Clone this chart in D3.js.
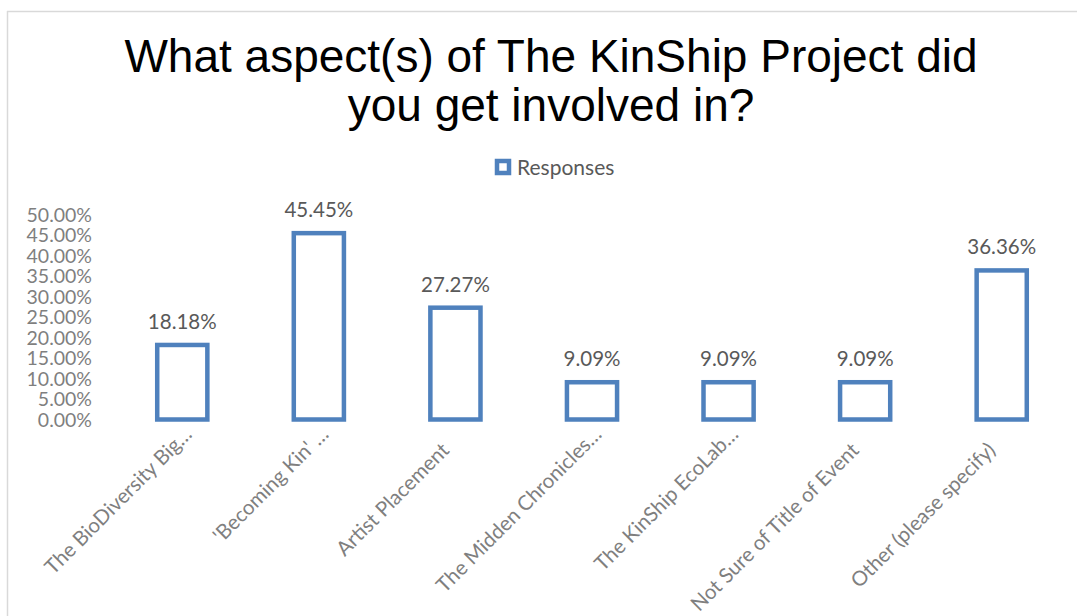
<!DOCTYPE html>
<html>
<head>
<meta charset="utf-8">
<script src="https://cdn.jsdelivr.net/npm/d3@7/dist/d3.min.js"></script>
<style>
html,body{margin:0;padding:0;background:#fff;}
svg{display:block;}
</style>
</head>
<body>
<svg id="chart" width="1077" height="616"></svg>
<script>
const categories = [
  "The BioDiversity Big\u2026",
  "'Becoming Kin' \u2026",
  "Artist Placement",
  "The Midden Chronicles\u2026",
  "The KinShip EcoLab\u2026",
  "Not Sure of Title of Event",
  "Other (please specify)"
];
const responses = [0.1818, 0.4545, 0.2727, 0.0909, 0.0909, 0.0909, 0.3636];
const yTicks = [0, 0.05, 0.10, 0.15, 0.20, 0.25, 0.30, 0.35, 0.40, 0.45, 0.50];
const titleLines = ["What aspect(s) of The KinShip Project did", "you get involved in?"];
const seriesName = "Responses";

const svg = d3.select("#chart");
const W = 1077, H = 616;
const blue = "#4f81bd";
const font = "Lato, 'Open Sans', sans-serif";

// chart area border (top and left visible)
svg.append("line").attr("x1", 7).attr("y1", 11.5).attr("x2", W).attr("y2", 11.5)
  .attr("stroke", "#d9d9d9").attr("stroke-width", 1.5);
svg.append("line").attr("x1", 7.5).attr("y1", 11).attr("x2", 7.5).attr("y2", H)
  .attr("stroke", "#d9d9d9").attr("stroke-width", 1.5);

// title
svg.append("text")
  .attr("x", 551).attr("y", 72)
  .attr("text-anchor", "middle")
  .attr("font-family", "'Liberation Sans', Arial, sans-serif")
  .attr("font-size", 46)
  .attr("fill", "#000")
  .selectAll("tspan").data(titleLines).join("tspan")
  .attr("x", 551).attr("dy", (d, i) => i === 0 ? 0 : 49)
  .text(d => d);

// legend
const lg = svg.append("g").attr("transform", "translate(497,161)");
lg.append("rect").attr("x", 0).attr("y", 0).attr("width", 12).attr("height", 12)
  .attr("fill", "#fff").attr("stroke", blue).attr("stroke-width", 4.5);
lg.append("text").attr("x", 20).attr("y", 13.5)
  .attr("font-family", font).attr("font-size", 21).attr("fill", "#595959")
  .text(seriesName);

// scales
const x = d3.scaleBand().domain(categories).range([114, 1070]).paddingInner(0.6).paddingOuter(0.3);
const y = d3.scaleLinear().domain([0, 0.5]).range([419.5, 214.5]);

// y axis (labels only)
const yAxis = d3.axisLeft(y).tickValues(yTicks).tickFormat(d3.format(".2%")).tickSize(0).tickPadding(0);
const yg = svg.append("g").attr("transform", "translate(92,0)").call(yAxis);
yg.select(".domain").remove();
yg.selectAll("text")
  .attr("font-family", font).attr("font-size", 19.5).attr("fill", "#7f7f7f")
  .attr("dy", "0.35em");

// bars
const sw = 4.5;
svg.append("g").selectAll("rect").data(responses).join("rect")
  .attr("x", (d, i) => x(categories[i]) + sw / 2)
  .attr("y", d => y(d))
  .attr("width", x.bandwidth() - sw)
  .attr("height", d => y(0) - y(d))
  .attr("fill", "#fff")
  .attr("stroke", blue)
  .attr("stroke-width", sw);

// data labels
svg.append("g").selectAll("text").data(responses).join("text")
  .attr("x", (d, i) => x(categories[i]) + x.bandwidth() / 2)
  .attr("y", d => y(d) - 16)
  .attr("text-anchor", "middle")
  .attr("font-family", font).attr("font-size", 20.5).attr("fill", "#595959")
  .text(d => d3.format(".2%")(d));

// x category labels, rotated
const xAxis = d3.axisBottom(x).tickSize(0).tickPadding(0);
const xg = svg.append("g").attr("transform", "translate(0,419.5)").call(xAxis);
xg.select(".domain").remove();
xg.selectAll("text")
  .attr("font-family", font).attr("font-size", 20.5).attr("fill", "#7f7f7f")
  .attr("text-anchor", "end")
  .attr("dy", null)
  .attr("y", 0)
  .attr("dx", d => d.endsWith("\u2026") ? "1.1em" : "0em")
  .attr("transform", "translate(-5,32) rotate(-45)");
</script>
</body>
</html>
